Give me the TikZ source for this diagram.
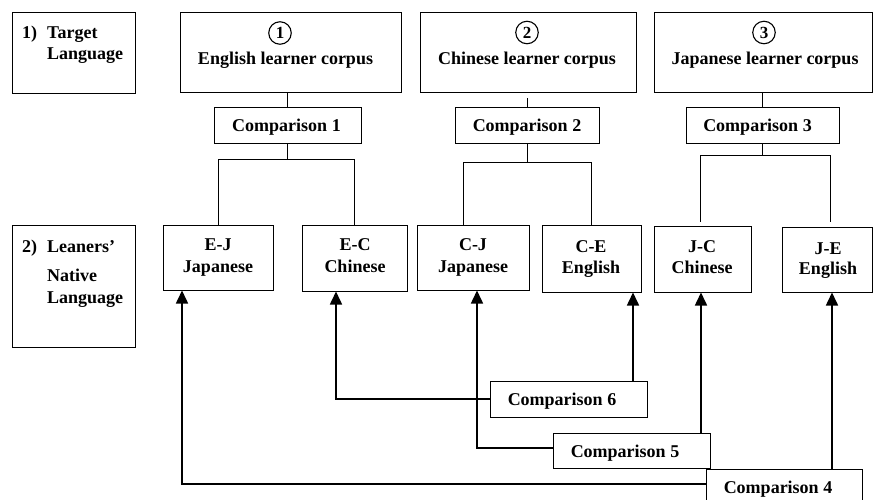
\documentclass[tikz,border=0pt]{standalone}
\usepackage{fontspec}
\setmainfont{Liberation Serif}
\usetikzlibrary{arrows.meta}
\begin{document}
\begin{tikzpicture}[x=1pt,y=-1pt,
  box/.style={draw, line width=1pt, inner sep=0pt},
  txt/.style={font=\fontsize{18}{20}\selectfont\bfseries, anchor=base, inner sep=0pt},
  lefttxt/.style={txt, anchor=base west},
  numcirc/.style={draw, circle, line width=1.1pt, minimum size=22.5pt, inner sep=0pt,
    font=\fontsize{17}{17}\selectfont\bfseries},
  link/.style={line width=1pt},
  arr/.style={line width=1.6pt, -{Triangle[width=12pt,length=13pt]}}]
\clip (0,0) rectangle (873,499);

% row labels
\node[box, minimum width=123pt, minimum height=81pt] (rowA) at (73.5,52.5) {};
\node[lefttxt] (rowAa) at (22,38) {1)};
\node[lefttxt] (rowAb) at (47,38) {Target};
\node[lefttxt] (rowAc) at (47,59) {Language};
\node[box, minimum width=123pt, minimum height=122pt] (rowB) at (73.5,286) {};
\node[lefttxt] (rowBa) at (22,252) {2)};
\node[lefttxt] (rowBb) at (47,252) {Leaners'};
\node[lefttxt] (rowBc) at (47,281) {Native};
\node[lefttxt] (rowBd) at (47,303) {Language};

% learner corpora
\node[box, minimum width=221pt, minimum height=80pt] (corpE) at (290.5,52) {};
\node[numcirc] (numE) at (280,33) {1};
\node[txt] (corpEt) at (285.5,64) {English learner corpus};
\node[box, minimum width=216pt, minimum height=80pt] (corpC) at (528,52) {};
\node[numcirc] (numC) at (527,32.5) {2};
\node[txt] (corpCt) at (527,64) {Chinese learner corpus};
\node[box, minimum width=218pt, minimum height=80pt] (corpJ) at (763,52) {};
\node[numcirc] (numJ) at (764,32.5) {3};
\node[txt] (corpJt) at (765,64) {Japanese learner corpus};

% comparisons within one corpus
\node[box, minimum width=147pt, minimum height=36pt] (cmp1) at (287.5,125) {};
\node[txt] (cmp1t) at (286.5,131) {Comparison 1};
\node[box, minimum width=144pt, minimum height=36pt] (cmp2) at (527,125) {};
\node[txt] (cmp2t) at (527,131) {Comparison 2};
\node[box, minimum width=153pt, minimum height=36pt] (cmp3) at (762.5,125) {};
\node[txt] (cmp3t) at (757.5,131) {Comparison 3};

% native-language groups
\node[box, minimum width=110pt, minimum height=65pt] (EJ) at (218,257.5) {};
\node[txt] (EJa) at (218,250) {E-J};
\node[txt] (EJb) at (218,272) {Japanese};
\node[box, minimum width=105pt, minimum height=66pt] (EC) at (354.5,258) {};
\node[txt] (ECa) at (355,250) {E-C};
\node[txt] (ECb) at (355,272) {Chinese};
\node[box, minimum width=112pt, minimum height=65pt] (CJ) at (473,257.5) {};
\node[txt] (CJa) at (473,250) {C-J};
\node[txt] (CJb) at (473,272) {Japanese};
\node[box, minimum width=99pt, minimum height=67pt] (CE) at (591.5,258.5) {};
\node[txt] (CEa) at (591,252) {C-E};
\node[txt] (CEb) at (591,273) {English};
\node[box, minimum width=97pt, minimum height=66pt] (JC) at (702.5,259) {};
\node[txt] (JCa) at (702,252) {J-C};
\node[txt] (JCb) at (702,273) {Chinese};
\node[box, minimum width=90pt, minimum height=65pt] (JE) at (827,259.5) {};
\node[txt] (JEa) at (828,254) {J-E};
\node[txt] (JEb) at (828,274) {English};

% comparisons across corpora
\node[box, minimum width=157pt, minimum height=36pt] (cmp6) at (568.5,399) {};
\node[txt] (cmp6t) at (562,405) {Comparison 6};
\node[box, minimum width=157pt, minimum height=35pt] (cmp5) at (631.5,450.5) {};
\node[txt] (cmp5t) at (625,457) {Comparison 5};
\node[box, minimum width=156pt, minimum height=36pt] (cmp4) at (784,487) {};
\node[txt] (cmp4t) at (778,493) {Comparison 4};

% tree connectors
\draw[link] (cmp1.north) -- (cmp1.north |- corpE.south);
\draw[link] (cmp1.south) -- ++(0,16) coordinate (b1);
\draw[link] (EJ.north) |- (b1) -| (EC.north);
\coordinate (ccFoot) at ([yshift=-5pt]corpC.south);
\draw[link] (cmp2.north) -- (cmp2.north |- ccFoot);
\draw[link] (cmp2.south) -- ++(0,19) coordinate (b2);
\coordinate (cjTop) at ([xshift=-10pt]CJ.north);
\draw[link] (cjTop) |- (b2) -| (CE.north);
\draw[link] (cmp3.north) -- (cmp3.north |- corpJ.south);
\draw[link] (cmp3.south) -- ++(0,12) coordinate (b3);
\coordinate (jcTop) at ([xshift=-2.5pt,yshift=4pt]JC.north);
\coordinate (jeTop) at ([xshift=3pt,yshift=5pt]JE.north);
\draw[link] (jcTop) |- (b3) -| (jeTop);

% arrows to the groups being compared
\coordinate (c4w) at ([yshift=3pt]cmp4.west);
\coordinate (c4n) at ([xshift=48pt]cmp4.north);
\coordinate (c5w) at ([yshift=2.5pt]cmp5.west);
\coordinate (c5n) at ([xshift=69.5pt]cmp5.north);
\coordinate (c6n) at ([xshift=64.5pt]cmp6.north);
\coordinate (ejIn) at ([xshift=-36pt]EJ.south);
\coordinate (cjIn) at ([xshift=4pt]CJ.south);
\coordinate (ecIn) at ([xshift=-18.5pt]EC.south);
\draw[arr] (c4w) -| (ejIn);
\draw[arr] (c4n) -- (c4n |- JE.south);
\draw[arr] (c5w) -| (cjIn);
\draw[arr] (c5n) -- (c5n |- JC.south);
\draw[arr] (cmp6.west) -| (ecIn);
\draw[arr] (c6n) -- (c6n |- CE.south);
\end{tikzpicture}
\end{document}
